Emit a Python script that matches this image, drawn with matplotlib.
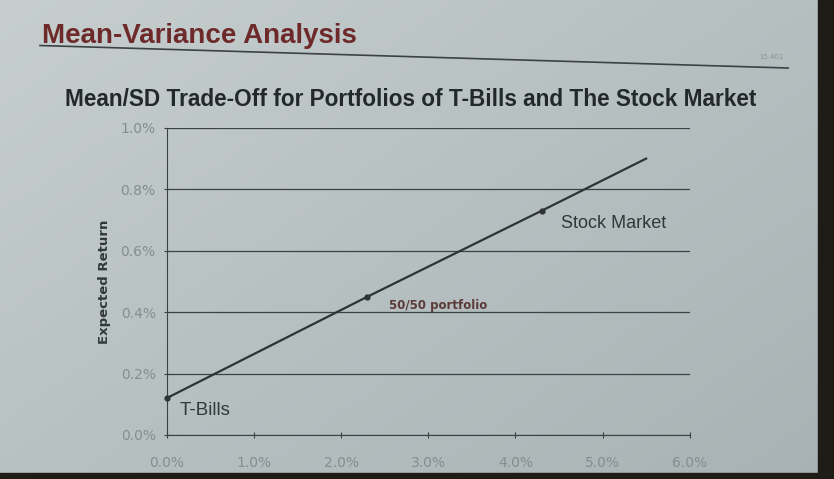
import numpy as np
import matplotlib.pyplot as plt
from matplotlib.patches import Rectangle
from matplotlib.ticker import FuncFormatter

# portfolio line (SD %, expected return %)
sd = [0.0, 2.3, 4.3, 5.5]
mean_ret = [0.12, 0.45, 0.73, 0.90]
point_names = ["T-Bills", "50/50 portfolio", "Stock Market"]

x_ticks = [0, 1, 2, 3, 4, 5, 6]
y_ticks = [0.0, 0.2, 0.4, 0.6, 0.8, 1.0]

narrow = ["Liberation Sans Narrow", "Liberation Sans", "DejaVu Sans"]
dark = "#2e3436"

fig = plt.figure(figsize=(8.34, 4.79), dpi=100)

# projected slide background: lighter top-left, darker bottom-right
bg_ax = fig.add_axes([0, 0, 1, 1], zorder=-10)
gx, gy = np.meshgrid(np.linspace(0, 1, 200), np.linspace(0, 1, 120))
shade = 0.55 * gx + 0.45 * gy
top = np.array([198, 206, 206]) / 255
bot = np.array([168, 178, 180]) / 255
img = top[None, None, :] * (1 - shade[..., None]) + bot[None, None, :] * shade[..., None]
bg_ax.imshow(img, extent=[0, 1, 0, 1], aspect="auto", origin="upper")
bg_ax.set_axis_off()

# slide edges seen in the photo
fig.patches.append(Rectangle((0.981, 0), 0.02, 1, transform=fig.transFigure,
                             color="#1f1c18", zorder=5))
fig.patches.append(Rectangle((0, 0), 1, 0.012, transform=fig.transFigure,
                             color="#1f1c18", zorder=5))

fig.text(0.050, 0.925, "Mean-Variance Analysis", fontsize=20, fontweight="bold",
         family=narrow, color="#6e2a2a", va="center")
fig.add_artist(plt.Line2D([0.048, 0.945], [0.905, 0.858], color="#3c4244",
                          lw=1.2, transform=fig.transFigure))
fig.text(0.940, 0.880, "15.401", fontsize=5, color="#8c9596", ha="right", va="center")
fig.text(0.078, 0.793, "Mean/SD Trade-Off for Portfolios of T-Bills and The Stock Market",
         fontsize=16.3, fontweight="bold", family=narrow, color="#23292b", va="center")

ax = fig.add_axes([0.200, 0.092, 0.627, 0.641])
ax.patch.set_alpha(0)

ax.plot(sd, mean_ret, color=dark, lw=1.6)
ax.plot(sd[:3], mean_ret[:3], "o", color=dark, ms=3.5, clip_on=False, zorder=4)

ax.text(sd[0] + 0.15, mean_ret[0] - 0.04, point_names[0], fontsize=13.5,
        family="Liberation Sans", color="#30383a", va="center")
ax.text(sd[1] + 0.25, mean_ret[1] - 0.03, point_names[1], fontsize=8.5,
        fontweight="bold", color="#5b3a38", va="center")
ax.text(sd[2] + 0.22, mean_ret[2] - 0.04, point_names[2], fontsize=13,
        family="Liberation Sans", color="#30383a", va="center")

ax.set_xlim(0, 6)
ax.set_ylim(0, 1.0)
ax.set_xticks(x_ticks)
ax.set_yticks(y_ticks)
ax.xaxis.set_major_formatter(FuncFormatter(lambda v, p: f"{v:.1f}%"))
ax.yaxis.set_major_formatter(FuncFormatter(lambda v, p: f"{v:.1f}%"))
ax.tick_params(labelsize=10, colors="#3a4244", labelcolor="#848e90", length=4,
               direction="inout")
ax.tick_params(axis="x", pad=13)
ax.tick_params(axis="y", pad=6)
ax.grid(axis="y", color="#3a4244", lw=0.9)
for side in ["top", "right"]:
    ax.spines[side].set_visible(False)
for side in ["left", "bottom"]:
    ax.spines[side].set_color("#3a4244")
ax.set_ylabel("Expected Return", fontsize=9.5, fontweight="bold", color="#30383a",
              labelpad=7)

fig.savefig("out.png", dpi=100)
